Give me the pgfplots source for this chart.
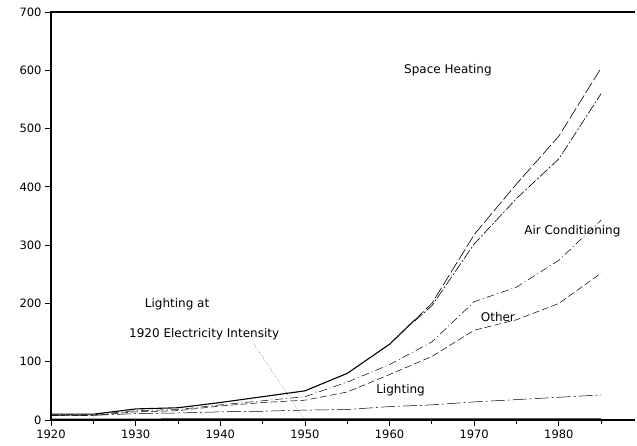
\documentclass[border=0pt]{standalone}
\usepackage{pgfplots}
\pgfplotsset{compat=1.18}
\usepackage{fontspec}
\setmainfont{DejaVu Sans}
\begin{document}
\begin{tikzpicture}
\begin{axis}[
  width=584pt, height=408pt, scale only axis,
  xmin=1920, xmax=1989, ymin=0, ymax=700,
  axis line style={draw=none},
  xtick={1920,1930,1940,1950,1960,1970,1980},
  minor xtick={1925,1935,1945,1955,1965,1975,1985},
  ytick={0,100,200,300,400,500,600,700},
  xtick pos=bottom, ytick pos=left,
  tick align=outside,
  major tick length=6pt, minor tick length=3.5pt,
  every tick/.append style={black, line width=0.8pt},
  xticklabel style={/pgf/number format/1000 sep={}},
  /pgf/number format/assume math mode=true,
  tick label style={font=\fontsize{11.5}{13}\selectfont},
  clip=false,
]
\draw[line width=1.1pt] (rel axis cs:1,1) -- (rel axis cs:0,1) -- (rel axis cs:0,0) -- (rel axis cs:1,0);
\draw[line width=0.8pt] (rel axis cs:0,0) -- (rel axis cs:0,-0.0125);
\draw[line width=0.8pt] (rel axis cs:0.14493,0) -- (rel axis cs:0.14493,-0.0125);
\draw[line width=0.8pt] (rel axis cs:0.28986,0) -- (rel axis cs:0.28986,-0.0125);
\draw[line width=0.8pt] (rel axis cs:0.43478,0) -- (rel axis cs:0.43478,-0.0125);
\draw[line width=0.8pt] (rel axis cs:0.57971,0) -- (rel axis cs:0.57971,-0.0125);
\draw[line width=0.8pt] (rel axis cs:0.72464,0) -- (rel axis cs:0.72464,-0.0125);
\draw[line width=0.8pt] (rel axis cs:0.86957,0) -- (rel axis cs:0.86957,-0.0125);
\draw[line width=0.8pt] (rel axis cs:0.07246,0) -- (rel axis cs:0.07246,-0.0075);
\draw[line width=0.8pt] (rel axis cs:0.21739,0) -- (rel axis cs:0.21739,-0.0075);
\draw[line width=0.8pt] (rel axis cs:0.36232,0) -- (rel axis cs:0.36232,-0.0075);
\draw[line width=0.8pt] (rel axis cs:0.50725,0) -- (rel axis cs:0.50725,-0.0075);
\draw[line width=0.8pt] (rel axis cs:0.65217,0) -- (rel axis cs:0.65217,-0.0075);
\draw[line width=0.8pt] (rel axis cs:0.79710,0) -- (rel axis cs:0.79710,-0.0075);
\draw[line width=0.8pt] (rel axis cs:0.94203,0) -- (rel axis cs:0.94203,-0.0075);
\draw[line width=0.8pt] (rel axis cs:0,0) -- (rel axis cs:-0.0086,0);
\draw[line width=0.8pt] (rel axis cs:0,0.142857) -- (rel axis cs:-0.0086,0.142857);
\draw[line width=0.8pt] (rel axis cs:0,0.285714) -- (rel axis cs:-0.0086,0.285714);
\draw[line width=0.8pt] (rel axis cs:0,0.428571) -- (rel axis cs:-0.0086,0.428571);
\draw[line width=0.8pt] (rel axis cs:0,0.571429) -- (rel axis cs:-0.0086,0.571429);
\draw[line width=0.8pt] (rel axis cs:0,0.714286) -- (rel axis cs:-0.0086,0.714286);
\draw[line width=0.8pt] (rel axis cs:0,0.857143) -- (rel axis cs:-0.0086,0.857143);
\draw[line width=0.8pt] (rel axis cs:0,1) -- (rel axis cs:-0.0086,1);
% total (solid part)
\addplot[black, line width=1.1pt] coordinates {(1920,10) (1925,10) (1930,19) (1935,21) (1940,30) (1945,40) (1950,50) (1955,80) (1960,130) (1963,172)};
% space heating upper
\addplot[black, line width=0.6pt, dash pattern=on 12pt off 3pt] coordinates {(1963,172) (1965,200) (1970,318) (1975,405) (1980,487) (1985,604)};
% space heating lower
\addplot[black, line width=0.6pt, dash pattern=on 10pt off 2pt on 2pt off 2pt] coordinates {(1963,170) (1965,196) (1970,302) (1975,380) (1980,448) (1985,560)};
% air conditioning
\addplot[black, line width=0.5pt, dash pattern=on 8pt off 3pt on 1pt off 3pt] coordinates {(1920,9) (1925,9) (1930,16) (1935,18) (1940,26) (1945,33) (1950,40) (1955,65) (1960,95) (1965,134) (1970,203) (1975,228) (1980,274) (1985,343)};
% other
\addplot[black, line width=0.5pt, dash pattern=on 7pt off 3pt] coordinates {(1920,8) (1925,8) (1930,14) (1935,16) (1940,24) (1945,30) (1950,34) (1955,48) (1960,78) (1965,109) (1970,154) (1975,172) (1980,200) (1985,252)};
% lighting
\addplot[black, line width=0.5pt, dash pattern=on 14pt off 3pt on 2pt off 3pt] coordinates {(1920,8) (1925,8) (1930,11) (1935,12) (1940,14) (1945,15) (1950,17) (1955,18) (1960,23) (1965,26) (1970,31) (1975,35) (1980,39) (1985,43)};
% lighting at 1920 intensity
\addplot[black, line width=0.5pt] coordinates {(1920,2) (1930,2) (1940,2.5) (1950,2.5) (1960,3) (1970,3) (1980,3) (1985,3)};
% leader
\draw[black, line width=0.4pt, dotted] (axis cs:1944,130) -- (axis cs:1950,0);
\node[font=\fontsize{12}{14}\selectfont] at (axis cs:1966.9,600) {Space Heating};
\node[font=\fontsize{12}{14}\selectfont] at (axis cs:1981.6,324) {Air Conditioning};
\node[font=\fontsize{12}{14}\selectfont] at (axis cs:1972.8,177) {Other};
\node[font=\fontsize{12}{14}\selectfont] at (axis cs:1961.3,51) {Lighting};
\node[font=\fontsize{12}{14}\selectfont] at (axis cs:1934.9,199) {Lighting at};
\node[font=\fontsize{12}{14}\selectfont] at (axis cs:1938.1,147) {1920 Electricity Intensity};
\end{axis}
\path (current axis.south west) ++(-51pt,-25pt) coordinate (bbA);
\path (current axis.north east) ++(2pt,12pt) coordinate (bbB);
\useasboundingbox (bbA) rectangle (bbB);
\end{tikzpicture}
\end{document}
